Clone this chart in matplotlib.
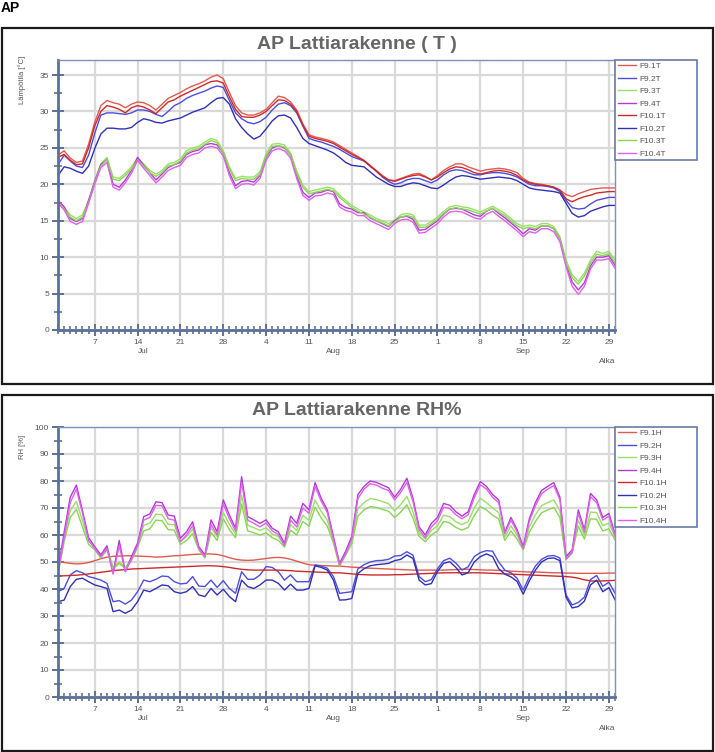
import matplotlib
matplotlib.use('Agg')
import matplotlib.pyplot as plt
import matplotlib.dates as mdates
from matplotlib.patches import Rectangle
from matplotlib.ticker import MultipleLocator, FuncFormatter
import pandas as pd

plt.rcParams['font.family'] = ['Liberation Sans', 'DejaVu Sans']

# daily values 1.7. - 30.9.
days = pd.date_range('2019-07-01', periods=92, freq='D')

# --- temperature (C) ---
f91t = [24.0, 24.6, 23.6, 23.0, 23.2, 25.5, 28.5, 30.8, 31.5, 31.2,
        31.0, 30.5, 31.0, 31.3, 31.2, 30.8, 30.2, 31.0, 31.8, 32.2,
        32.6, 33.1, 33.5, 33.8, 34.2, 34.7, 35.0, 34.5, 32.6, 30.8,
        29.8, 29.5, 29.5, 29.8, 30.3, 31.2, 32.1, 31.9, 31.3, 30.2,
        28.3, 26.8, 26.5, 26.3, 26.1, 25.8, 25.3, 24.8, 24.3, 23.8,
        23.3, 22.6, 21.9, 21.2, 20.6, 20.5, 20.8, 21.1, 21.4, 21.5,
        21.1, 20.6, 21.2, 21.9, 22.4, 22.8, 22.8, 22.4, 22.1, 21.8,
        22.0, 22.1, 22.2, 22.1, 21.9, 21.6, 20.8, 20.3, 20.1, 20.0,
        19.8, 19.6, 19.2, 18.6, 18.3, 18.7, 19.0, 19.3, 19.4, 19.5,
        19.5, 19.5]
f101t = [23.7, 24.1, 23.3, 22.7, 22.8, 25.0, 28.0, 30.0, 30.8, 30.6,
         30.3, 29.8, 30.5, 30.8, 30.6, 30.2, 29.7, 30.5, 31.3, 31.6,
         32.1, 32.5, 32.9, 33.3, 33.7, 34.1, 34.2, 33.9, 32.0, 30.3,
         29.3, 29.2, 29.2, 29.5, 30.0, 30.8, 31.6, 31.5, 31.0, 30.0,
         28.1, 26.6, 26.3, 26.1, 25.9, 25.6, 25.1, 24.6, 24.1, 23.7,
         23.2, 22.5, 21.8, 21.1, 20.6, 20.4, 20.7, 21.0, 21.2, 21.3,
         21.0, 20.6, 21.0, 21.6, 22.1, 22.4, 22.3, 22.0, 21.6, 21.4,
         21.6, 21.8, 21.9, 21.8, 21.6, 21.2, 20.6, 20.2, 20.0, 19.9,
         19.8, 19.6, 19.2, 18.0, 17.6, 18.0, 18.3, 18.5, 18.8, 18.9,
         19.0, 19.0]
f92t = [22.7, 24.0, 23.2, 22.5, 22.3, 24.0, 27.0, 29.5, 29.8, 29.8,
        29.7, 29.6, 29.8, 30.2, 30.2, 30.0, 29.6, 29.3, 30.0, 30.8,
        31.2, 31.8, 32.2, 32.5, 32.8, 33.2, 33.5, 33.3, 31.5, 29.8,
        29.0, 28.5, 28.3, 28.6, 29.2, 30.2, 31.0, 31.2, 30.8, 29.8,
        28.0, 26.3, 26.0, 25.8, 25.5, 25.2, 24.8, 24.3, 23.8, 23.5,
        23.2, 22.5, 21.8, 21.0, 20.4, 20.0, 20.2, 20.6, 20.8, 20.8,
        20.5, 20.2, 20.6, 21.3, 21.8, 22.0, 21.9, 21.6, 21.3, 21.3,
        21.5, 21.6, 21.6, 21.5, 21.3, 21.0, 20.5, 20.0, 19.8, 19.8,
        19.7, 19.5, 19.0, 17.8, 16.8, 16.6, 16.7, 17.3, 17.8, 18.0,
        18.2, 18.2]
f102t = [21.2, 22.4, 22.2, 21.8, 21.5, 22.5, 24.9, 26.9, 27.7, 27.7,
         27.6, 27.6, 27.8, 28.5, 29.0, 28.8, 28.5, 28.4, 28.7, 28.9,
         29.1, 29.5, 29.9, 30.2, 30.5, 31.2, 31.8, 31.9, 31.0, 29.0,
         27.8, 26.9, 26.2, 26.6, 27.6, 28.7, 29.4, 29.5, 29.1, 27.8,
         26.3, 25.6, 25.3, 25.0, 24.7, 24.3, 23.7, 23.0, 22.6, 22.5,
         22.4, 21.7, 21.0, 20.5, 20.0, 19.7, 19.7, 20.0, 20.2, 20.1,
         19.8, 19.5, 19.4, 19.9, 20.5, 21.0, 21.2, 21.1, 20.9, 20.7,
         20.8, 20.9, 21.0, 20.9, 20.8, 20.5, 20.0, 19.5, 19.3, 19.2,
         19.1, 19.0, 18.8, 17.4, 16.0, 15.5, 15.7, 16.3, 16.6, 16.9,
         17.1, 17.1]
f93t = [17.8, 16.9, 15.8, 15.3, 15.8, 17.8, 20.5, 22.8, 23.7, 21.0,
        20.8, 21.5, 22.4, 23.6, 22.8, 21.9, 21.4, 21.9, 22.8, 23.0,
        23.5, 24.6, 25.0, 25.2, 25.8, 26.3, 26.0, 24.6, 22.4, 20.8,
        21.1, 21.0, 21.0, 21.7, 24.2, 25.5, 25.6, 25.4, 24.3, 21.8,
        19.9, 19.0, 19.2, 19.4, 19.6, 19.4, 18.5, 17.8, 17.1, 16.6,
        16.2, 15.8, 15.3, 15.0, 14.6, 15.1, 15.8, 16.0, 15.8, 14.4,
        14.4, 14.9, 15.5, 16.3, 16.9, 17.1, 16.9, 16.8, 16.5, 16.2,
        16.6, 17.0, 16.5, 16.0, 15.3, 14.6, 14.2, 14.4, 14.2, 14.6,
        14.6, 14.2, 12.8, 9.6, 7.6, 6.7, 7.8, 9.6, 10.8, 10.5,
        10.8, 9.6]
f103t = [17.5, 16.6, 15.5, 15.0, 15.5, 17.5, 20.2, 22.5, 23.4, 20.7,
         20.5, 21.2, 22.1, 23.3, 22.5, 21.6, 21.1, 21.6, 22.5, 22.7,
         23.2, 24.3, 24.7, 24.9, 25.5, 26.0, 25.7, 24.3, 22.1, 20.5,
         20.8, 20.7, 20.7, 21.4, 23.9, 25.2, 25.3, 25.1, 24.0, 21.5,
         19.6, 18.7, 18.9, 19.1, 19.3, 19.1, 18.2, 17.5, 16.8, 16.3,
         15.9, 15.5, 15.0, 14.7, 14.3, 14.8, 15.5, 15.7, 15.5, 14.1,
         14.1, 14.6, 15.2, 16.0, 16.6, 16.8, 16.6, 16.5, 16.2, 15.9,
         16.3, 16.7, 16.2, 15.7, 15.0, 14.3, 13.9, 14.1, 13.9, 14.3,
         14.3, 13.9, 12.5, 9.2, 7.2, 6.3, 7.4, 9.2, 10.4, 10.2,
         10.5, 9.2]
f94t = [17.8, 16.9, 15.3, 14.9, 15.3, 17.8, 20.4, 22.7, 23.4, 20.0,
        19.6, 20.6, 21.9, 23.7, 22.6, 21.6, 20.6, 21.4, 22.3, 22.7,
        23.0, 24.1, 24.5, 24.7, 25.4, 25.6, 25.4, 24.3, 21.6, 19.8,
        20.4, 20.5, 20.3, 21.2, 23.7, 25.0, 25.3, 25.0, 24.0, 21.2,
        18.9, 18.2, 18.8, 18.9, 19.2, 19.0, 17.3, 16.8, 16.6, 16.1,
        16.1, 15.4, 15.0, 14.6, 14.2, 15.0, 15.5, 15.6, 15.2, 13.7,
        13.8, 14.4, 15.0, 15.9, 16.6, 16.7, 16.6, 16.2, 15.8, 15.6,
        16.3, 16.7, 16.0, 15.4, 14.7, 14.0, 13.2, 13.9, 13.7, 14.3,
        14.3, 13.9, 12.5, 9.1, 6.6, 5.5, 6.5, 8.8, 10.0, 10.0,
        10.2, 8.9]
f104t = [17.4, 16.5, 14.9, 14.5, 14.9, 17.4, 20.0, 22.3, 23.0, 19.6,
         19.2, 20.2, 21.5, 23.3, 22.2, 21.2, 20.2, 21.0, 21.9, 22.3,
         22.6, 23.7, 24.1, 24.3, 25.0, 25.2, 25.0, 23.9, 21.2, 19.4,
         20.0, 20.1, 19.9, 20.8, 23.3, 24.6, 24.9, 24.6, 23.6, 20.8,
         18.5, 17.8, 18.4, 18.5, 18.8, 18.6, 16.9, 16.4, 16.2, 15.7,
         15.7, 15.0, 14.6, 14.2, 13.8, 14.6, 15.1, 15.2, 14.8, 13.3,
         13.4, 14.0, 14.6, 15.5, 16.2, 16.3, 16.2, 15.8, 15.4, 15.2,
         15.9, 16.3, 15.6, 15.0, 14.3, 13.6, 12.8, 13.5, 13.3, 13.9,
         13.9, 13.5, 12.1, 8.7, 6.0, 4.9, 6.0, 8.4, 9.6, 9.6,
         9.8, 8.5]

# --- relative humidity (%) ---
f91h = [50.1, 49.8, 49.5, 49.3, 49.4, 49.8, 50.5, 51.2, 51.8, 52.1,
        52.2, 52.3, 52.3, 52.2, 52.1, 52.0, 51.8, 51.9, 52.1, 52.3,
        52.4, 52.6, 52.8, 52.9, 53.0, 53.0, 52.8, 52.3, 51.6, 51.0,
        50.7, 50.6, 50.7, 51.0, 51.3, 51.6, 51.7, 51.5, 51.0, 50.3,
        49.6, 49.0, 48.8, 48.7, 48.6, 48.5, 48.5, 48.3, 48.1, 48.0,
        47.8, 47.7, 47.6, 47.5, 47.4, 47.3, 47.2, 47.1, 47.0, 47.0,
        47.0, 47.0, 47.0, 47.0, 47.1, 47.2, 47.3, 47.3, 47.2, 47.1,
        47.0, 47.0, 46.9, 46.8, 46.6, 46.5, 46.4, 46.3, 46.3, 46.2,
        46.1, 46.0, 46.0, 45.9, 45.9, 45.8, 45.8, 45.8, 45.8, 45.8,
        45.9, 45.9]
f101h = [44.8, 44.9, 45.0, 45.1, 45.3, 45.6, 45.9, 46.2, 46.5, 46.8,
         47.0, 47.2, 47.4, 47.5, 47.6, 47.7, 47.8, 47.9, 48.0, 48.1,
         48.2, 48.3, 48.4, 48.5, 48.6, 48.6, 48.5, 48.3, 48.0, 47.6,
         47.3, 47.1, 47.0, 47.0, 47.0, 47.0, 47.0, 46.9, 46.8, 46.6,
         46.5, 46.4, 46.3, 46.2, 46.1, 46.0, 46.0, 45.8, 45.6, 45.4,
         45.3, 45.2, 45.2, 45.2, 45.2, 45.3, 45.3, 45.4, 45.5, 45.6,
         45.7, 45.8, 45.9, 46.0, 46.0, 46.0, 46.0, 46.0, 46.0, 46.0,
         45.9, 45.8, 45.7, 45.6, 45.5, 45.4, 45.3, 45.2, 45.1, 45.0,
         44.9, 44.8, 44.7, 44.6, 44.4, 44.0, 43.4, 43.0, 42.9, 43.0,
         43.1, 43.2]
f92h = [39.0, 40.2, 45.2, 46.8, 46.0, 44.6, 44.0, 43.3, 42.1, 35.3,
        35.7, 34.4, 35.9, 39.0, 43.3, 42.7, 43.6, 44.8, 44.6, 42.7,
        41.9, 42.1, 44.6, 41.1, 40.9, 43.3, 40.6, 43.1, 40.2, 38.4,
        46.4, 43.6, 43.6, 45.2, 48.3, 48.0, 46.4, 43.3, 45.2, 42.7,
        42.7, 42.7, 48.9, 48.5, 47.7, 44.6, 38.4, 38.7, 39.0, 47.5,
        49.0, 50.0, 50.5, 50.6, 51.0, 52.2, 52.4, 53.8, 52.5, 44.6,
        42.7, 43.5, 47.5, 50.5, 51.4, 49.6, 47.0, 48.2, 52.0, 53.5,
        54.2, 54.0, 50.0, 47.0, 46.0, 44.0, 39.6, 44.5, 48.5, 51.0,
        52.2, 52.4, 51.5, 37.8, 34.1, 35.0, 37.0, 43.5, 45.0, 41.0,
        42.5, 38.5]
f102h = [35.3, 35.9, 40.9, 43.6, 44.0, 42.7, 41.5, 40.9, 40.2, 31.6,
         32.2, 31.0, 32.2, 35.3, 39.6, 39.0, 40.2, 41.5, 41.2, 39.0,
         38.4, 39.0, 40.9, 37.8, 37.2, 40.2, 37.8, 39.9, 37.2, 35.3,
         43.3, 40.9, 40.2, 41.5, 43.3, 43.3, 42.1, 39.6, 41.8, 39.6,
         39.6, 40.2, 48.6, 48.0, 47.0, 43.3, 35.9, 36.0, 36.5, 45.8,
         47.5, 48.6, 49.0, 49.2, 49.5, 50.5, 51.0, 52.6, 51.3, 43.3,
         41.5, 42.0, 46.5, 49.5, 50.1, 48.0, 45.2, 46.0, 50.0, 52.0,
         53.0, 52.0, 47.5, 45.5, 44.5, 42.8, 38.1, 43.0, 47.0, 50.0,
         51.3, 51.5, 50.5, 37.0, 33.0, 33.5, 35.5, 41.5, 43.3, 39.0,
         40.5, 36.0]
f93h = [46.5, 59.3, 69.0, 72.4, 65.3, 57.8, 55.2, 52.1, 55.5, 48.0,
        50.0, 48.0, 51.0, 56.3, 63.6, 64.4, 67.7, 67.5, 64.0, 63.8,
        57.6, 59.4, 62.2, 55.2, 52.1, 62.7, 59.4, 68.3, 64.0, 60.4,
        74.7, 63.6, 62.7, 61.7, 62.7, 60.4, 59.4, 56.2, 63.8, 61.7,
        67.3, 65.5, 73.0, 68.7, 65.5, 58.0, 49.0, 53.5, 58.1, 69.8,
        72.0, 73.5, 73.1, 72.4, 71.6, 69.0, 71.3, 74.3, 68.6, 60.8,
        58.5, 61.7, 63.4, 67.3, 66.8, 64.9, 63.8, 64.9, 70.0, 73.6,
        72.0, 70.0, 68.3, 59.3, 63.4, 60.0, 55.2, 63.0, 67.5, 70.9,
        72.0, 73.0, 69.0, 51.5, 54.0, 65.5, 60.0, 68.5, 68.3, 63.4,
        64.5, 59.4]
f103h = [45.5, 57.5, 66.5, 69.5, 63.0, 56.5, 54.5, 51.5, 54.5, 47.5,
         49.5, 47.5, 50.5, 55.5, 61.5, 62.3, 65.5, 65.3, 62.0, 61.8,
         56.5, 58.0, 60.5, 54.5, 51.5, 61.0, 58.0, 66.0, 62.0, 59.0,
         71.5, 61.5, 60.8, 60.0, 60.8, 59.0, 58.0, 55.5, 61.8, 60.0,
         65.0, 63.3, 70.3, 66.3, 63.3, 57.0, 48.5, 52.5, 56.8, 67.0,
         69.3, 70.5, 70.2, 69.5, 68.8, 66.5, 68.5, 71.2, 66.2, 59.5,
         57.5, 60.0, 61.5, 65.0, 64.5, 62.8, 61.8, 62.8, 67.2, 70.5,
         69.3, 67.3, 66.0, 58.0, 61.5, 58.5, 54.5, 61.0, 65.0, 68.2,
         69.3, 70.2, 66.5, 51.0, 53.3, 63.3, 58.5, 66.0, 65.8, 61.5,
         62.3, 58.2]
f94h = [47.0, 61.0, 74.0, 78.5, 69.0, 59.0, 55.7, 52.6, 56.0, 45.8,
        58.0, 46.4, 52.0, 57.0, 66.8, 67.8, 72.3, 72.0, 67.4, 67.0,
        58.8, 61.2, 64.9, 55.7, 52.6, 65.6, 61.2, 73.0, 67.4, 62.5,
        81.6, 66.8, 65.6, 64.3, 65.6, 62.5, 61.2, 56.9, 67.0, 64.3,
        71.7, 69.3, 79.4, 73.6, 69.3, 59.4, 49.5, 54.0, 59.5, 75.0,
        78.0, 80.0, 79.5, 78.5, 77.5, 74.0, 77.0, 81.0, 73.5, 63.0,
        60.0, 64.3, 66.5, 71.7, 71.0, 68.6, 67.0, 68.6, 75.0, 79.8,
        78.0, 75.0, 73.0, 61.0, 66.5, 62.0, 55.7, 66.0, 72.0, 76.5,
        78.0, 79.4, 74.0, 52.0, 54.5, 69.3, 62.0, 75.4, 73.0, 66.5,
        68.0, 60.5]
f104h = [46.0, 59.0, 72.0, 77.0, 68.0, 58.0, 55.0, 52.0, 55.0, 45.5,
         56.0, 46.5, 51.0, 56.0, 65.5, 66.5, 71.0, 70.8, 66.0, 65.5,
         57.5, 60.0, 63.5, 55.0, 52.0, 64.0, 60.0, 71.5, 66.0, 61.5,
         79.5, 65.5, 64.3, 63.0, 64.5, 61.5, 60.2, 56.0, 65.5, 63.0,
         70.0, 68.0, 78.0, 72.5, 68.3, 58.5, 49.0, 53.0, 58.5, 73.5,
         77.0, 79.0, 78.5, 77.3, 76.5, 73.0, 75.8, 79.5, 72.3, 62.0,
         59.0, 63.0, 65.2, 70.3, 69.8, 67.5, 66.0, 67.5, 73.8, 78.6,
         77.0, 74.0, 72.0, 60.5, 65.5, 61.2, 55.0, 65.0, 70.8, 75.3,
         77.0, 78.3, 73.0, 51.0, 53.5, 68.0, 61.0, 74.2, 72.0, 65.5,
         67.0, 59.5]

t_names = ['F9.1T', 'F9.2T', 'F9.3T', 'F9.4T', 'F10.1T', 'F10.2T', 'F10.3T', 'F10.4T']
h_names = ['F9.1H', 'F9.2H', 'F9.3H', 'F9.4H', 'F10.1H', 'F10.2H', 'F10.3H', 'F10.4H']
colors = ['#e05a4e', '#4d4de0', '#99e066', '#b33ad6',
          '#cc2a2a', '#3030b8', '#8ad455', '#e060f0']
months = [(7, 'Jul'), (8, 'Aug'), (9, 'Sep')]

AXC = '#5b7099'
TXT = '#555555'


def panel(ax, series, names, ymax, ystep, ylabel):
    for vals, name, c in zip(series, names, colors):
        ax.plot(days, vals, color=c, lw=1.0, label=name)
    ax.set_xlim(days[0], days[-1])
    ax.set_ylim(0, ymax)
    ax.yaxis.set_major_locator(MultipleLocator(ystep))
    ax.yaxis.set_minor_locator(MultipleLocator(ystep / 2))
    ax.xaxis.set_major_locator(mdates.WeekdayLocator(byweekday=mdates.SU))
    ax.xaxis.set_minor_locator(mdates.DayLocator())
    ax.xaxis.set_major_formatter(FuncFormatter(lambda v, p: str(mdates.num2date(v).day)))
    ax.grid(True, which='major', color='#d9d9d9', lw=1.6)
    ax.set_axisbelow(True)
    ax.tick_params(which='major', direction='inout', length=9, width=1.4,
                   color=AXC, labelsize=6, labelcolor=TXT, pad=2)
    ax.tick_params(which='minor', direction='inout', length=6, width=1.2, color=AXC)
    for s in ['left', 'bottom']:
        ax.spines[s].set_color(AXC)
        ax.spines[s].set_linewidth(2)
    for s in ['top', 'right']:
        ax.spines[s].set_color('#8090b8')
        ax.spines[s].set_linewidth(1)
    tr = ax.get_xaxis_transform()
    for m, lab in months:
        ax.text(pd.Timestamp(2019, m, 15), -0.08, lab, transform=tr,
                ha='center', va='center', fontsize=6, color=TXT)
    ax.text(1.0, -0.118, 'Aika', transform=ax.transAxes, ha='right',
            va='center', fontsize=6, color=TXT)
    ax.text(-0.064, 0.926, ylabel, transform=ax.transAxes, rotation=90,
            ha='center', va='center', fontsize=5.5, color=TXT)
    leg = ax.legend(loc='upper left', bbox_to_anchor=(1.0, 0.0, 0.1472, 1.0),
                    mode='expand', borderaxespad=0, fontsize=6, frameon=True,
                    fancybox=False, framealpha=1, edgecolor='#6a7aa8',
                    handlelength=2.2, handletextpad=0.4, labelspacing=0.56,
                    borderpad=0.3)
    leg.get_frame().set_linewidth(1.2)
    for t in leg.get_texts():
        t.set_color(TXT)


fig = plt.figure(figsize=(7.15, 7.52), dpi=100)
W, H = 715.0, 752.0

fig.text(1 / W, 1 - 12.5 / H, 'AP', fontsize=10, fontweight='bold',
         color='black', va='baseline', ha='left')
for top, bot in [(28, 384), (395, 750.5)]:
    fig.add_artist(Rectangle((2 / W, 1 - bot / H), 711 / W, (bot - top) / H,
                             transform=fig.transFigure, fill=False,
                             ec='#1a1a1a', lw=1.6))

ax1 = fig.add_axes([58 / W, 1 - 330 / H, 557 / W, 270 / H])
panel(ax1, [f91t, f92t, f93t, f94t, f101t, f102t, f103t, f104t],
      t_names, 37.06, 5, 'Lämpötila [°C]')
fig.text(357 / W, 1 - 49 / H, 'AP Lattiarakenne ( T )', ha='center',
         va='baseline', fontsize=14, fontweight='bold', color='#666666')

ax2 = fig.add_axes([58 / W, 1 - 697 / H, 557 / W, 270 / H])
panel(ax2, [f91h, f92h, f93h, f94h, f101h, f102h, f103h, f104h],
      h_names, 100, 10, 'RH [%]')
fig.text(357 / W, 1 - 415 / H, 'AP Lattiarakenne RH%', ha='center',
         va='baseline', fontsize=14, fontweight='bold', color='#666666')

fig.savefig('out.png', dpi=100)
